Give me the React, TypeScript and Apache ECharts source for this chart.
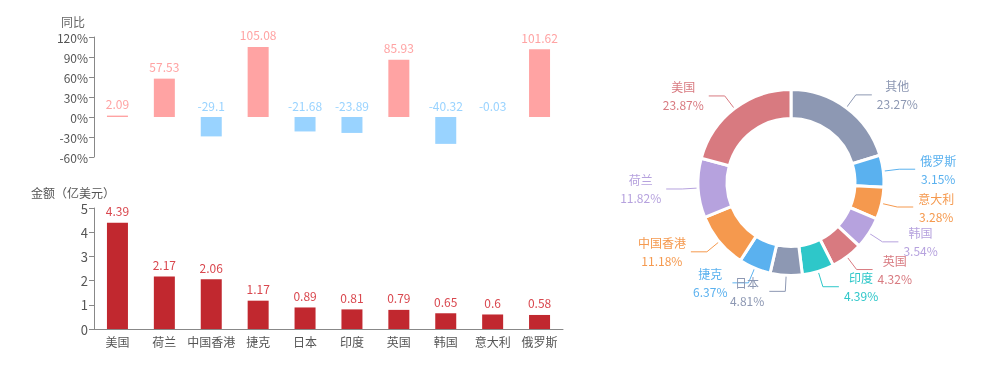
import React, { useEffect, useRef } from "react";
import * as echarts from "echarts";

const countries = ["美国", "荷兰", "中国香港", "捷克", "日本", "印度", "英国", "韩国", "意大利", "俄罗斯"];
const yoyValues = [2.09, 57.53, -29.1, 105.08, -21.68, -23.89, 85.93, -40.32, -0.03, 101.62];
const amountValues = [4.39, 2.17, 2.06, 1.17, 0.89, 0.81, 0.79, 0.65, 0.6, 0.58];

const pieNames = ["其他", "俄罗斯", "意大利", "韩国", "英国", "印度", "日本", "捷克", "中国香港", "荷兰", "美国"];
const pieValues = [23.27, 3.15, 3.28, 3.54, 4.32, 4.39, 4.81, 6.37, 11.18, 11.82, 23.87];
const pieColors = ["#8d98b3", "#5ab1ef", "#f5994e", "#b6a2de", "#d87a80", "#2ec7c9", "#8d98b3", "#5ab1ef", "#f5994e", "#b6a2de", "#d87a80"];

const POS = "#ffa3a3";
const NEG = "#99d3ff";
const FONT = "Noto Sans CJK SC";

export default function App() {
  const ref = useRef<HTMLDivElement>(null);
  useEffect(() => {
    const chart = echarts.init(ref.current!, null, { renderer: "svg" });
    chart.setOption({
      animation: false,
      textStyle: { fontFamily: FONT },
      grid: [
        { left: 94, right: 437, top: 37, bottom: 208 },
        { left: 94, right: 437, top: 208, bottom: 36 },
      ],
      xAxis: [
        { type: "category", gridIndex: 0, data: countries, show: false },
        {
          type: "category",
          gridIndex: 1,
          data: countries,
          axisLine: { lineStyle: { color: "#888" } },
          axisTick: { alignWithLabel: true, lineStyle: { color: "#888" } },
          axisLabel: { color: "#555", fontSize: 12, margin: 6, interval: 0 },
        },
      ],
      yAxis: [
        {
          type: "value",
          gridIndex: 0,
          min: -60,
          max: 120,
          interval: 30,
          name: "同比",
          nameGap: 10,
          nameTextStyle: { color: "#666", fontSize: 12, align: "center", padding: [0, 42, 0, 0] },
          splitLine: { show: false },
          axisLine: { show: true, lineStyle: { color: "#888" } },
          axisTick: { show: true, lineStyle: { color: "#888" } },
          axisLabel: { color: "#555", fontSize: 12, formatter: "{value}%", margin: 6 },
        },
        {
          type: "value",
          gridIndex: 1,
          min: 0,
          max: 5,
          interval: 1,
          name: "金额（亿美元）",
          nameGap: 10,
          nameTextStyle: { color: "#555", fontSize: 12, align: "center", padding: [0, 42, 0, 0] },
          splitLine: { show: false },
          axisLine: { show: true, lineStyle: { color: "#888" } },
          axisTick: { show: true, lineStyle: { color: "#888" } },
          axisLabel: { color: "#555", fontSize: 13, margin: 6 },
        },
      ],
      series: [
        {
          type: "bar",
          xAxisIndex: 0,
          yAxisIndex: 0,
          barWidth: 21,
          data: yoyValues.map((v) => ({
            value: v,
            itemStyle: { color: v >= 0 ? POS : NEG },
            label: { color: v >= 0 ? POS : NEG },
          })),
          label: { show: true, position: "top", fontSize: 12, distance: 6 },
        },
        {
          type: "bar",
          xAxisIndex: 1,
          yAxisIndex: 1,
          barWidth: 21,
          itemStyle: { color: "#c1282f" },
          data: amountValues,
          label: { show: true, position: "top", fontSize: 12, color: "#d9474e", distance: 6 },
        },
        {
          type: "pie",
          center: [791, 182.5],
          radius: [64, 93],
          startAngle: 90,
          clockwise: true,
          minAngle: 20,
          avoidLabelOverlap: false,
          labelLayout: { hideOverlap: false },
          itemStyle: { borderColor: "#fff", borderWidth: 3 },
          label: {
            formatter: "{t|{b}}\n{t|{c}%}",
            fontSize: 12,
            lineHeight: 18,
            rich: { t: { align: "center", fontSize: 12, lineHeight: 18 } },
          },
          labelLine: { length: 16, length2: 16 },
          data: pieNames.map((n, i) => ({
            name: n,
            value: pieValues[i],
            itemStyle: { color: pieColors[i] },
            label: { color: pieColors[i] },
          })),
        },
      ],
    });
    return () => chart.dispose();
  }, []);
  return <div ref={ref} style={{ position: "fixed", left: 0, top: 0, width: 1000, height: 365 }} />;
}
